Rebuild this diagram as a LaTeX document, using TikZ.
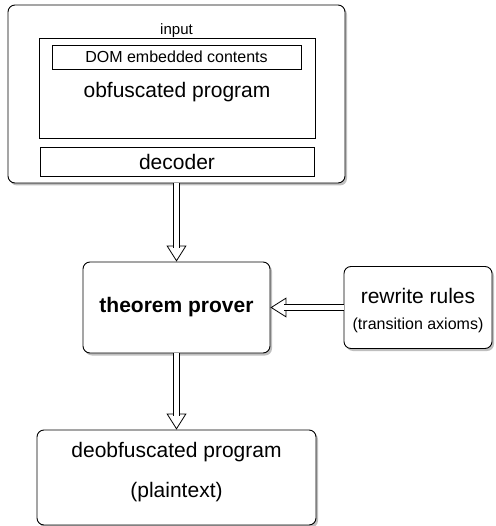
\documentclass[tikz,border=0pt]{standalone}
\usepackage{fontspec}
\setmainfont{Liberation Sans}
\usepackage{tikz}
\usetikzlibrary{positioning,shadows,arrows.meta}

\begin{document}
\begin{tikzpicture}[x=1pt, y=-1pt, on grid, line width=0.9pt,
    box/.style={draw, rounded corners=7pt, fill=white, inner sep=0pt,
      drop shadow={shadow xshift=2pt, shadow yshift=-2.5pt, opacity=0.5}},
    inbox/.style={draw, fill=white, line width=0.8pt, inner sep=0pt},
    big/.style={font=\fontsize{21}{25}\selectfont},
    small/.style={font=\fontsize{16}{19}\selectfont},
    hollow/.style={draw=none,
      preaction={draw, line width=0.8pt, -{Triangle[length=16pt, width=20pt, fill=white]}},
      postaction={draw, line width=0.8pt, double, double distance=5pt, shorten >=14pt}}]
   \useasboundingbox (0,0) rectangle (495,526);
   \node[box, minimum width=337pt, minimum height=178pt] (input) at (176.5,94) {};
   \node[font=\fontsize{15}{18}\selectfont, inner sep=0pt] (in_label) [below=19pt of input.north] {input};
   \node[inbox, minimum width=276pt, minimum height=100pt] (prog) at (177,88) {};
   \node[inbox, small, minimum width=249pt, minimum height=24pt] (dom) at (176.5,57) {DOM embedded contents};
   \node[big, inner sep=0pt] (prog_text) at (177,92.5) {obfuscated program};
   \node[inbox, big, minimum width=274pt, minimum height=29pt] (decoder) at (177,161.5) {decoder};
   \node[box, minimum width=187pt, minimum height=91pt, font=\bfseries\fontsize{21}{25}\selectfont] (prover) [below=213.5pt of input] {theorem prover};
   \node[box, minimum width=148pt, minimum height=82pt, align=center, font=\fontsize{16}{26}\selectfont, text height=47pt] (rules) [right=241.5pt of prover] {{\fontsize{21}{25}\selectfont rewrite rules}\\(transition axioms)};
   \node[box, big, minimum width=279pt, minimum height=95pt, align=center, font=\fontsize{21}{40}\selectfont, text depth=16pt] (deobf) [below=170pt of prover] {deobfuscated program\\(plaintext)};
   \path[hollow] (input) -- (prover);
   \path[hollow] (rules) -- (prover);
   \path[hollow] (prover) -- (deobf);
\end{tikzpicture}
\end{document}
